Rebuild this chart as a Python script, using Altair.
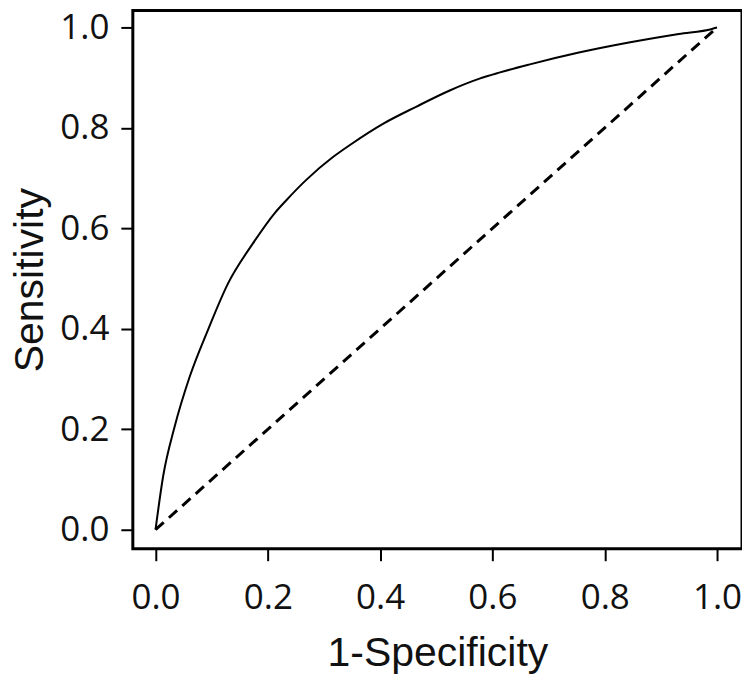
import altair as alt
import pandas as pd

# ROC curve points
fpr = [0.0, 0.0135, 0.034, 0.061, 0.0935, 0.129, 0.1735, 0.212, 0.233, 0.268, 0.316,
       0.345, 0.405, 0.464, 0.523, 0.577, 0.612, 0.665, 0.754, 0.843, 0.932, 0.991, 1.0]
tpr = [0.0, 0.106, 0.205, 0.305, 0.398, 0.490, 0.570, 0.630, 0.656, 0.696, 0.742,
       0.765, 0.808, 0.842, 0.874, 0.898, 0.910, 0.926, 0.950, 0.970, 0.987, 0.997, 1.0]
ref_x = [0.0, 1.0]
ref_y = [0.0, 1.0]
ticks = [0.0, 0.2, 0.4, 0.6, 0.8, 1.0]

curve = pd.DataFrame({"x": fpr, "y": tpr, "o": list(range(len(fpr)))})
diag = pd.DataFrame({"x": ref_x, "y": ref_y})

xscale = alt.Scale(domain=[-0.0404, 1.0445], nice=False, zero=False)
yscale = alt.Scale(domain=[-0.0378, 1.0338], nice=False, zero=False)

axis_common = dict(
    values=ticks, format=".1f", grid=False, domain=False,
    tickColor="black", tickWidth=2, tickSize=12,
    labelFont="Open Sans", labelFontSize=35, labelColor="#111",
    titleFont="Liberation Sans", titleFontSize=41, titleFontWeight="normal",
    titleColor="#111",
)

xenc = alt.X("x:Q", scale=xscale,
             axis=alt.Axis(title="1-Specificity", labelPadding=20, titlePadding=18, **axis_common))
yenc = alt.Y("y:Q", scale=yscale,
             axis=alt.Axis(title="Sensitivity", labelPadding=12, titlePadding=8, **axis_common))

roc = alt.Chart(curve).mark_line(color="black", strokeWidth=2, interpolate="monotone").encode(
    x=xenc, y=yenc, order="o:Q")
ref = alt.Chart(diag).mark_line(color="black", strokeWidth=3, strokeDash=[11, 7]).encode(
    x="x:Q", y="y:Q")

chart = alt.layer(roc, ref).properties(
    width=610, height=539,
    autosize=alt.AutoSizeParams(type="none"),
    padding={"left": 125, "top": 2, "right": 0, "bottom": 126},
).configure(
    background="white",
    view=alt.ViewConfig(stroke="black", strokeWidth=3),
)

chart.save("out.html", embed_options={"renderer": "svg", "actions": False})
